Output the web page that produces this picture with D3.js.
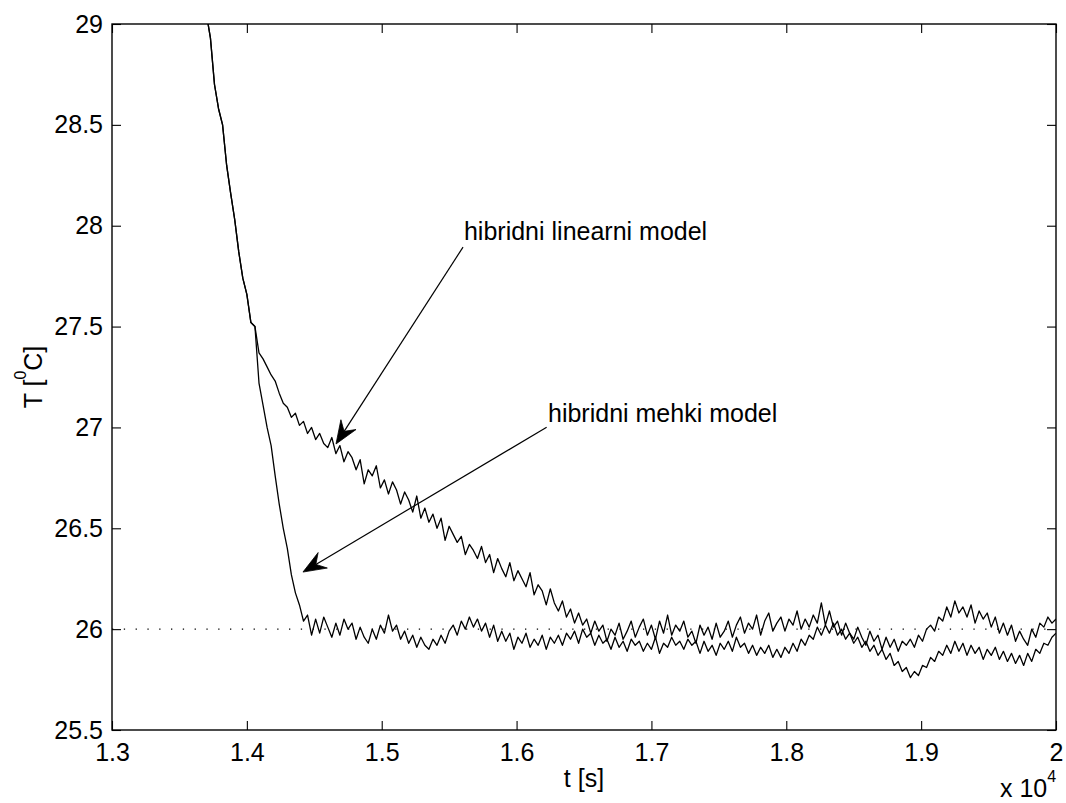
<!DOCTYPE html>
<html>
<head>
<meta charset="utf-8">
<script src="https://cdn.jsdelivr.net/npm/d3@7"></script>
<style>
  html, body { margin: 0; padding: 0; background: #fff; }
  svg { display: block; }
  text { font-family: "Liberation Sans", Arial, Helvetica, sans-serif; fill: #000; }
</style>
</head>
<body>
<div id="chart"></div>
<script>
// sampling grid of the two responses (time in units of 1e4 s)
var t0 = 1.364, dt = 0.003;

// hibridni linearni model
var linearModel = [
  29.35, 29.20, 29.05, 28.93, 28.70, 28.58, 28.50, 28.30, 28.16, 28.03,
  27.87, 27.74, 27.66, 27.52, 27.50,
  27.37, 27.34, 27.30, 27.26, 27.23,
  27.17, 27.12, 27.10, 27.05, 27.07,
  27.01, 27.03, 26.97, 27.00, 26.94,
  26.97, 26.92, 26.90, 26.95, 26.87,
  26.91, 26.83, 26.88, 26.85, 26.79,
  26.84, 26.72, 26.79, 26.76, 26.81,
  26.70, 26.74, 26.67, 26.73, 26.69,
  26.62, 26.68, 26.64, 26.58, 26.66,
  26.55, 26.60, 26.53, 26.57, 26.50,
  26.55, 26.44, 26.51, 26.47, 26.43,
  26.46, 26.37, 26.42, 26.39, 26.35,
  26.41, 26.33, 26.37, 26.28, 26.35,
  26.30, 26.26, 26.33, 26.24, 26.29,
  26.25, 26.21, 26.28, 26.17, 26.22,
  26.19, 26.12, 26.20, 26.13, 26.09,
  26.14, 26.06, 26.10, 26.03, 26.08,
  26.02, 26.05, 25.98, 26.04, 25.99,
  26.02, 25.94, 26.00, 25.97, 26.03,
  25.95, 25.99, 26.04, 25.96, 26.01,
  26.05, 25.97, 26.02, 25.95, 26.04,
  25.98, 26.07, 25.97, 26.02, 25.99,
  26.04, 25.96, 25.99, 25.93, 26.02,
  25.97, 26.01, 25.95, 26.03, 25.96,
  25.99, 26.04, 25.96, 26.02, 26.06,
  25.98, 26.03, 26.00, 26.07, 25.97,
  26.04, 26.08, 25.99, 26.03, 26.06,
  25.99, 26.05, 26.02, 26.09, 26.00,
  26.05, 26.01, 26.07, 26.03, 26.13,
  26.02, 26.09, 26.01, 26.04, 25.97,
  26.03, 25.98, 25.95, 26.01, 25.96,
  25.92, 25.99, 25.94, 25.97, 25.90,
  25.96, 25.91, 25.95, 25.89, 25.94,
  25.92, 25.95, 25.91, 25.97, 25.94,
  26.00, 26.02, 25.99, 26.06, 26.04,
  26.11, 26.06, 26.14, 26.08, 26.11,
  26.06, 26.12, 26.03, 26.09, 26.05,
  26.08, 26.01, 26.06, 25.98, 26.03,
  25.97, 26.02, 25.94, 25.99, 25.95,
  25.92, 26.00, 25.96, 26.03, 26.01,
  26.06, 26.03, 26.05
];

// hibridni mehki model
var fuzzyModel = [
  29.35, 29.20, 29.05, 28.93, 28.70, 28.58, 28.50, 28.30, 28.16, 28.03,
  27.87, 27.74, 27.66, 27.52, 27.50,
  27.22, 27.11, 27.00, 26.91, 26.76,
  26.62, 26.50, 26.40, 26.27, 26.18,
  26.12, 26.04, 26.07, 25.97, 26.05,
  25.98, 26.06, 26.01, 25.96, 26.03,
  25.97, 26.05, 26.00, 26.03, 25.95,
  26.01, 25.96, 25.93, 26.00, 25.95,
  26.02, 25.98, 26.07, 25.99, 26.02,
  25.95, 25.99, 25.93, 25.97, 25.91,
  25.96, 25.92, 25.90, 25.95, 25.92,
  25.97, 25.93, 25.99, 26.02, 25.97,
  26.04, 26.00, 26.06, 26.01, 26.05,
  25.99, 26.03, 25.96, 26.02, 25.94,
  25.99, 25.94, 25.98, 25.90, 25.96,
  25.93, 25.98, 25.91, 25.95, 25.92,
  25.97, 25.90, 25.96, 25.93, 25.97,
  25.92, 25.98, 25.95, 25.99, 25.93,
  26.00, 25.96, 25.98, 25.92, 25.97,
  25.93, 25.95, 25.90, 25.96, 25.91,
  25.94, 25.89, 25.95, 25.92, 25.94,
  25.89, 25.93, 25.90, 25.96, 25.88,
  25.93, 25.91, 25.96, 25.92, 25.94,
  25.90, 25.95, 25.92, 25.94, 25.88,
  25.94, 25.89, 25.92, 25.87, 25.93,
  25.90, 25.94, 25.89, 25.96, 25.91,
  25.93, 25.88, 25.92, 25.87, 25.91,
  25.88, 25.92, 25.86, 25.90, 25.86,
  25.91, 25.88, 25.93, 25.89, 25.95,
  25.92, 25.97, 25.95, 26.01, 25.97,
  26.02, 25.98, 26.03, 25.97, 26.00,
  25.95, 25.98, 25.93, 25.96, 25.91,
  25.94, 25.89, 25.92, 25.87, 25.90,
  25.85, 25.88, 25.82, 25.84, 25.79,
  25.81, 25.76, 25.79, 25.77, 25.82,
  25.81, 25.86, 25.84, 25.89, 25.87,
  25.92, 25.88, 25.94, 25.89, 25.93,
  25.87, 25.92, 25.88, 25.91, 25.85,
  25.90, 25.87, 25.91, 25.85, 25.89,
  25.84, 25.88, 25.83, 25.87, 25.82,
  25.88, 25.84, 25.90, 25.88, 25.93,
  25.92, 25.96, 25.98
];

var setpoint = 26;

var xTicks = [1.3, 1.4, 1.5, 1.6, 1.7, 1.8, 1.9, 2.0];
var xTickLabels = ["1.3", "1.4", "1.5", "1.6", "1.7", "1.8", "1.9", "2"];
var yTicks = [25.5, 26, 26.5, 27, 27.5, 28, 28.5, 29];
var yTickLabels = ["25.5", "26", "26.5", "27", "27.5", "28", "28.5", "29"];

// arrows: from text end to the curve (data coords)
var arrows = [
  {label: "hibridni linearni model", tx: 1.561, ty: 27.929, x1: 1.5603, y1: 27.894, x2: 1.4661, y2: 26.918},
  {label: "hibridni mehki model", tx: 1.6233, ty: 27.027, x1: 1.6223, y1: 27.001, x2: 1.4416, y2: 26.283}
];

var W = 1066, H = 803;
var margin = {top: 24, right: 10, bottom: 73, left: 112};
var fs = "25px";

var svg = d3.select("#chart").append("svg").attr("width", W).attr("height", H);

var x = d3.scaleLinear().domain([1.3, 2.0]).range([margin.left, W - margin.right]);
var y = d3.scaleLinear().domain([25.5, 29]).range([H - margin.bottom, margin.top]);

svg.append("clipPath").attr("id", "plotclip")
  .append("rect")
  .attr("x", x(1.3)).attr("y", y(29))
  .attr("width", x(2.0) - x(1.3)).attr("height", y(25.5) - y(29));

var plot = svg.append("g").attr("clip-path", "url(#plotclip)");

// setpoint line (dotted)
plot.append("line")
  .attr("x1", x(1.3)).attr("x2", x(2.0))
  .attr("y1", y(setpoint)).attr("y2", y(setpoint))
  .attr("stroke", "#000").attr("stroke-width", 1.3)
  .attr("stroke-dasharray", "1.3,10.5");

var line = d3.line()
  .x(function(d, i){ return x(t0 + i * dt); })
  .y(function(d){ return y(d); });

[linearModel, fuzzyModel].forEach(function(series){
  plot.append("path")
    .datum(series)
    .attr("d", line)
    .attr("fill", "none")
    .attr("stroke", "#000")
    .attr("stroke-width", 1.3)
    .attr("stroke-linejoin", "round");
});

// axes (MATLAB box style, ticks pointing inward)
var xb = svg.append("g").attr("transform", "translate(0," + y(25.5) + ")")
  .call(d3.axisBottom(x).tickValues(xTicks).tickSize(-9).tickPadding(13)
    .tickFormat(function(d, i){ return xTickLabels[i]; }));
var xt = svg.append("g").attr("transform", "translate(0," + y(29) + ")")
  .call(d3.axisTop(x).tickValues(xTicks).tickSize(-9).tickFormat(""));
var yl = svg.append("g").attr("transform", "translate(" + x(1.3) + ",0)")
  .call(d3.axisLeft(y).tickValues(yTicks).tickSize(-9).tickPadding(9)
    .tickFormat(function(d, i){ return yTickLabels[i]; }));
var yr = svg.append("g").attr("transform", "translate(" + x(2.0) + ",0)")
  .call(d3.axisRight(y).tickValues(yTicks).tickSize(-9).tickFormat(""));

[xb, xt, yl, yr].forEach(function(g){
  g.select(".domain").remove();
  g.selectAll(".tick line").attr("stroke", "#000").attr("stroke-width", 1.1);
  g.selectAll(".tick text").style("font-size", fs)
    .style("font-family", "'Liberation Sans', Arial, sans-serif").attr("fill", "#000");
});

svg.append("rect")
  .attr("x", x(1.3)).attr("y", y(29))
  .attr("width", x(2.0) - x(1.3)).attr("height", y(25.5) - y(29))
  .attr("fill", "none").attr("stroke", "#000").attr("stroke-width", 1.4);

// axis labels
svg.append("text")
  .attr("x", (x(1.3) + x(2.0)) / 2).attr("y", 787)
  .attr("text-anchor", "middle").style("font-size", fs)
  .text("t [s]");

var yLab = svg.append("text")
  .attr("transform", "translate(42," + ((y(25.5) + y(29)) / 2) + ") rotate(-90)")
  .attr("text-anchor", "middle").style("font-size", fs);
yLab.append("tspan").text("T [");
yLab.append("tspan").text("0").style("font-size", "16px").attr("dy", -16);
yLab.append("tspan").text("C]").attr("dy", 16);

var exp = svg.append("text")
  .attr("x", 1000).attr("y", 797).style("font-size", fs);
exp.append("tspan").text("x 10");
exp.append("tspan").text("4").style("font-size", "16px").attr("dy", -15);

// annotations with arrows
arrows.forEach(function(a){
  var sx = x(a.x1), sy = y(a.y1), ex = x(a.x2), ey = y(a.y2);
  var dx = ex - sx, dy = ey - sy, len = Math.sqrt(dx * dx + dy * dy);
  var ux = dx / len, uy = dy / len, nx = -uy, ny = ux;
  var L = 23, Wd = 9, notch = 15;
  svg.append("line")
    .attr("x1", sx).attr("y1", sy)
    .attr("x2", ex - ux * notch).attr("y2", ey - uy * notch)
    .attr("stroke", "#000").attr("stroke-width", 1.2);
  var pts = [
    [ex, ey],
    [ex - ux * L + nx * Wd, ey - uy * L + ny * Wd],
    [ex - ux * notch, ey - uy * notch],
    [ex - ux * L - nx * Wd, ey - uy * L - ny * Wd]
  ];
  svg.append("path")
    .attr("d", "M" + pts.map(function(p){ return p.join(","); }).join("L") + "Z")
    .attr("fill", "#000").attr("stroke", "#000").attr("stroke-width", 0.8);
  svg.append("text")
    .attr("x", x(a.tx)).attr("y", y(a.ty))
    .style("font-size", fs)
    .text(a.label);
});
</script>
</body>
</html>
